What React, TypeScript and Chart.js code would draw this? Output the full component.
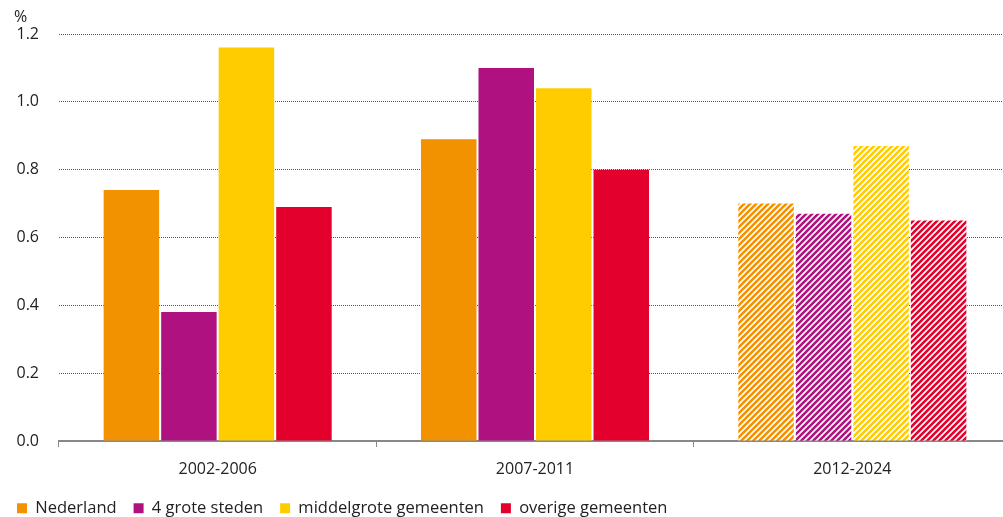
import React, { useEffect, useRef } from "react";
import { Chart, registerables } from "chart.js";

Chart.register(...registerables);

const categories = ["2002-2006", "2007-2011", "2012-2024"];
const seriesNames = ["Nederland", "4 grote steden", "middelgrote gemeenten", "overige gemeenten"];
const nederland = [0.74, 0.89, 0.70];
const groteSteden = [0.38, 1.10, 0.67];
const middelgrote = [1.16, 1.04, 0.87];
const overige = [0.69, 0.80, 0.65];
const hatchedCategory = [false, false, true];
const yTicks = [0, 0.2, 0.4, 0.6, 0.8, 1.0, 1.2];
const unitLabel = "%";

const colors = ["#F39200", "#AF1280", "#FFCC00", "#E3002C"];
const FONT = "'Open Sans', 'DejaVu Sans', sans-serif";

function makePattern(color: string): CanvasPattern | string {
  const size = 6;
  const c = document.createElement("canvas");
  c.width = size;
  c.height = size;
  const ctx = c.getContext("2d");
  if (!ctx) return color;
  ctx.fillStyle = "#ffffff";
  ctx.fillRect(0, 0, size, size);
  ctx.strokeStyle = color;
  ctx.lineWidth = 2.6;
  ctx.beginPath();
  for (let k = -1; k <= 1; k++) {
    ctx.moveTo(k * size - 1, size + 1);
    ctx.lineTo(k * size + size + 1, -1);
  }
  ctx.stroke();
  const p = ctx.createPattern(c, "repeat");
  return p || color;
}

const unitPlugin = {
  id: "unitLabel",
  afterDraw(chart: any) {
    const ctx = chart.ctx;
    ctx.save();
    ctx.fillStyle = "#222";
    ctx.font = `16px ${FONT}`;
    ctx.textAlign = "left";
    ctx.textBaseline = "middle";
    ctx.fillText(unitLabel, 14, 17);
    ctx.restore();
  },
};

export default function App() {
  const ref = useRef<HTMLCanvasElement>(null);
  useEffect(() => {
    document.body.style.margin = "0";
    document.body.style.overflow = "hidden";
    if (!ref.current) return;
    const values = [nederland, groteSteden, middelgrote, overige];
    const chart = new Chart(ref.current, {
      type: "bar",
      data: {
        labels: categories,
        datasets: seriesNames.map((name, i) => {
          const pat = makePattern(colors[i]);
          return {
            label: name,
            data: values[i],
            backgroundColor: categories.map((_, j) => (hatchedCategory[j] ? pat : colors[i])) as any,
            borderWidth: 0,
            barPercentage: 0.965,
            categoryPercentage: 0.725,
          };
        }),
      },
      plugins: [unitPlugin],
      options: {
        animation: false,
        responsive: false,
        maintainAspectRatio: false,
        layout: { padding: { left: 0, right: 0, top: 34, bottom: 0 } },
        plugins: {
          tooltip: { enabled: false },
          title: { display: false },
          legend: {
            position: "bottom",
            align: "start",
            maxHeight: 34,
            labels: {
              boxWidth: 10,
              boxHeight: 10,
              padding: 17,
              color: "#222",
              font: { family: FONT, size: 16.5 },
            },
          },
        },
        scales: {
          x: {
            offset: true,
            afterFit: (scale: any) => {
              scale.height = 42;
            },
            grid: {
              display: true,
              drawOnChartArea: false,
              drawTicks: true,
              tickLength: 6,
              color: "#888",
              offset: true,
            },
            border: { display: true, color: "#888", width: 2 },
            ticks: { color: "#222", font: { family: FONT, size: 16 }, padding: 13 },
          },
          y: {
            min: 0,
            max: 1.2,
            afterFit: (scale: any) => {
              scale.width = 59;
            },
            afterBuildTicks: (scale: any) => {
              scale.ticks = yTicks.map((v) => ({ value: v }));
            },
            grid: {
              display: true,
              drawTicks: false,
              color: "#555",
              lineWidth: 1,
            },
            border: { display: false, dash: [1, 1] },
            ticks: {
              color: "#222",
              padding: 20,
              font: { family: FONT, size: 16 },
              callback: (v: any) => Number(v).toFixed(1),
            },
          },
        },
      },
    });
    return () => chart.destroy();
  }, []);
  return (
    <div style={{ width: 1003, height: 517, overflow: "hidden" }}>
      <canvas ref={ref} width={1011} height={517} style={{ display: "block" }} />
    </div>
  );
}
